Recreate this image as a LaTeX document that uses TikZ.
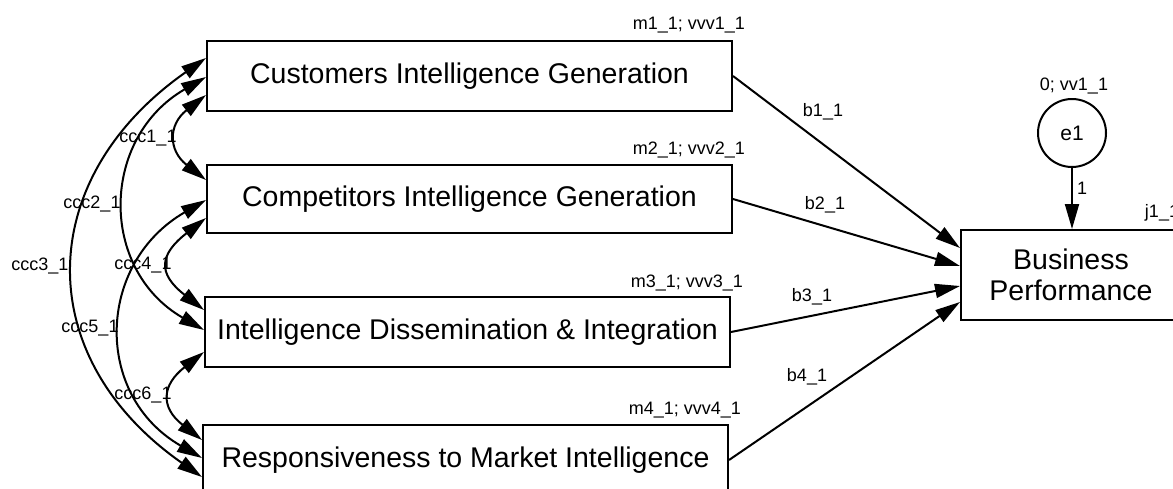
\documentclass[tikz,border=0pt]{standalone}
\usepackage{fontspec}
\setmainfont{Liberation Sans}
\usetikzlibrary{arrows.meta}
\begin{document}
\begin{tikzpicture}[x=1pt, y=1pt, >={Triangle[length=25pt,width=14pt]}, line width=2pt,
  varbox/.style={draw, minimum width=525pt, minimum height=70pt, inner sep=0pt, font=\fontsize{28.5}{31}\selectfont},
  lbl/.style={inner sep=0pt, font=\fontsize{18}{21}\selectfont}]
\useasboundingbox (0,0) rectangle (1173,-488);
\clip (0,0) rectangle (1173,-488);

\node[varbox] (cust) at (469.5,-76) {Customers Intelligence Generation};
\node[varbox, minimum height=68pt] (comp) at (469.5,-199) {Competitors Intelligence Generation};
\node[varbox] (diss) at (467.5,-332) {Intelligence Dissemination \& Integration};
\node[varbox] (resp) at (465.5,-460) {Responsiveness to Market Intelligence};
\node[varbox, minimum width=220pt, minimum height=90pt, align=center] (bp) at (1071,-275) {Business\\Performance};
\node[draw, circle, minimum size=68pt, inner sep=0pt, font=\fontsize{21}{25}\selectfont] (e1) at (1072,-133) {e1};

\draw [->] (cust.east) -- ([yshift=27pt]bp.west);
\draw [->] (comp.east) -- ([yshift=9pt]bp.west);
\draw [->] (diss.east) -- ([yshift=-11pt]bp.west);
\draw [->] (resp.east) -- ([yshift=-27pt]bp.west);
\draw [->] (e1) -- (e1 |- bp.north);

\draw [<->] ([yshift=-19pt]cust.west) to[out=218, in=142, looseness=1.45] ([yshift=19pt]comp.west);
\draw [<->] ([yshift=-1pt]cust.west) to[out=210, in=150, looseness=1.23] ([yshift=2pt]diss.west);
\draw [<->] ([yshift=18pt]cust.west) to[out=215, in=145, looseness=1.28] ([yshift=-17pt]resp.west);
\draw [<->] ([yshift=-19pt]comp.west) to[out=218, in=142, looseness=1.65] ([yshift=22pt]diss.west);
\draw [<->] ([yshift=-1pt]comp.west) to[out=210, in=150, looseness=1.25] ([yshift=2pt]resp.west);
\draw [<->] ([yshift=-20pt]diss.west) to[out=218, in=142, looseness=1.55] ([yshift=20pt]resp.west);

\node[lbl, anchor=base east] (m1) at ([xshift=13pt,yshift=11pt]cust.north east) {m1\_1; vvv1\_1};
\node[lbl, anchor=base east] (m2) at ([xshift=13pt,yshift=10pt]comp.north east) {m2\_1; vvv2\_1};
\node[lbl, anchor=base east] (m3) at ([xshift=13pt,yshift=9pt]diss.north east) {m3\_1; vvv3\_1};
\node[lbl, anchor=base east] (m4) at ([xshift=13pt,yshift=10pt]resp.north east) {m4\_1; vvv4\_1};
\node[lbl] (v1) at (1074,-86) {0; vv1\_1};
\node[lbl] (j1) at (1162,-213) {j1\_1};
\node[lbl] (one) at (1082,-188) {1};

\node[lbl] (b1) at (823,-112) {b1\_1};
\node[lbl] (b2) at (825,-205) {b2\_1};
\node[lbl] (b3) at (812,-297) {b3\_1};
\node[lbl] (b4) at (807,-377) {b4\_1};

\node[lbl] (c1) at (148,-138) {ccc1\_1};
\node[lbl] (c2) at (92,-204) {ccc2\_1};
\node[lbl] (c3) at (40,-266) {ccc3\_1};
\node[lbl] (c4) at (143,-265) {ccc4\_1};
\node[lbl] (c5) at (90,-328) {ccc5\_1};
\node[lbl] (c6) at (143,-395) {ccc6\_1};
\end{tikzpicture}
\end{document}
